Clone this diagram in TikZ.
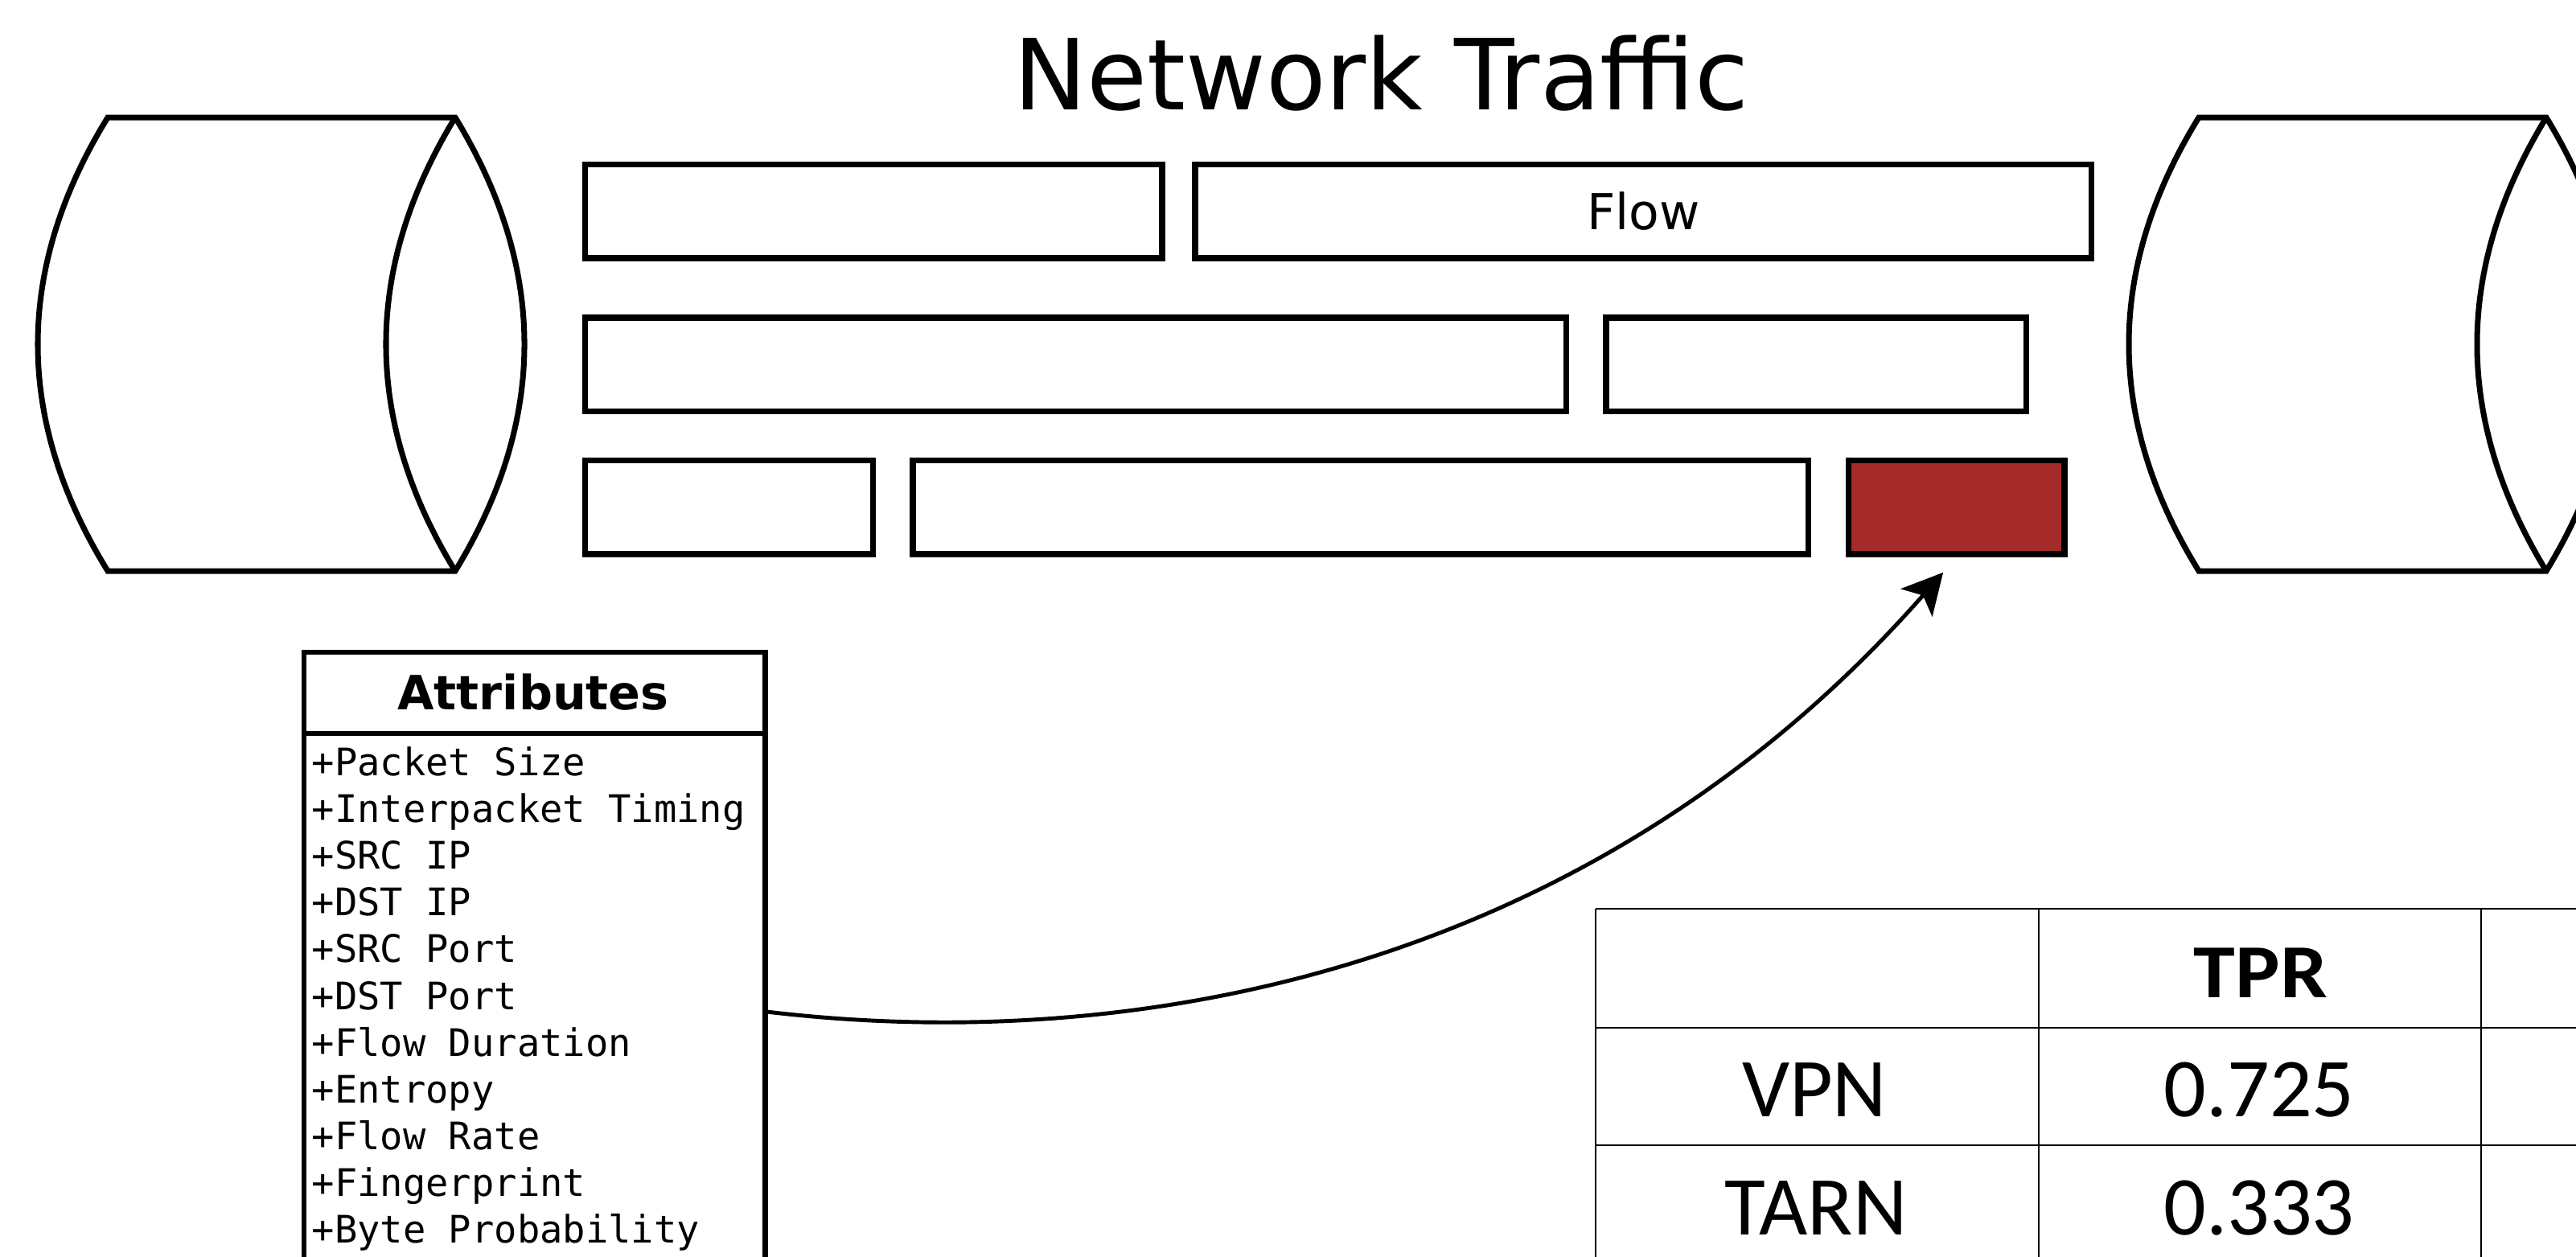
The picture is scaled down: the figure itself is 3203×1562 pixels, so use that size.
\documentclass[tikz,border=0pt]{standalone}
\usepackage{fontspec}
\usepackage{graphicx}
\setmainfont{DejaVu Sans}
\newfontfamily\monofont{DejaVu Sans Mono}
\newfontfamily\tablefont{Carlito}
\usetikzlibrary{arrows.meta,calc}
\definecolor{flowred}{RGB}{165,42,42}

\begin{document}
\begin{tikzpicture}[x=0.01cm,y=-0.01cm,
  pkt/.style={draw, line width=2.1pt, rectangle, inner sep=0pt, outer sep=0pt,
              minimum height=1.165cm, anchor=north west},
  cyl/.style={line width=2pt, line join=miter},
  tabline/.style={line width=0.6pt},
  tabtext/.style={anchor=base, inner sep=0pt, font=\tablefont\fontsize{29.6pt}{34pt}\selectfont},
  attrline/.style={anchor=base west, inner sep=0pt, font=\monofont\fontsize{13.4pt}{16pt}\selectfont},
  link/.style={line width=1.4pt, -{Stealth[length=0.5cm, width=0.52cm, inset=0.12cm]}}]

\useasboundingbox (0,0) rectangle (3203,1562);
\clip (0,0) rectangle (3203,1562);
\fill[white] (0,0) rectangle (3203,1562);

% heading
\node[anchor=base, inner sep=0pt, font=\fontsize{34.7pt}{40pt}\selectfont] (title) at (1717.5,136) {Network Traffic};

% endpoints drawn as cylinders lying on their side
\draw[cyl] (134,146) -- (566,146) .. controls (680.7,334) and (680.7,522) .. (566,710)
           -- (134,710) .. controls (18,522) and (18,334) .. cycle;
\draw[cyl] (566,146) .. controls (451.3,334) and (451.3,522) .. (566,710);

\draw[cyl] (2734,146) -- (3166,146) .. controls (3280.7,334) and (3280.7,522) .. (3166,710)
           -- (2734,710) .. controls (2618,522) and (2618,334) .. cycle;
\draw[cyl] (3166,146) .. controls (3051.3,334) and (3051.3,522) .. (3166,710);

% packets in the stream
\node[pkt, minimum width=7.17cm]  (A) at (727.5,204.5) {};
\node[pkt, minimum width=11.14cm, font=\fontsize{17.5pt}{20pt}\selectfont] (B) at (1486,204.5) {Flow};
\node[pkt, minimum width=12.195cm] (C) at (727.5,395) {};
\node[pkt, minimum width=5.22cm]  (D) at (1997,395) {};
\node[pkt, minimum width=3.575cm] (E) at (727.5,572.5) {};
\node[pkt, minimum width=11.13cm] (F) at (1135,572.5) {};
\node[pkt, minimum width=2.685cm, fill=flowred] (G) at (2298.5,572.5) {};

% attribute class box
\node[draw, line width=1.8pt, rectangle, inner sep=0pt, outer sep=0pt, anchor=north west,
      minimum width=5.73cm, minimum height=8.4cm] (attr) at (378,811) {};
\draw[line width=1.9pt] ($(attr.north west)+(0,101)$) -- ($(attr.north east)+(0,101)$);
\node[anchor=base, inner sep=0pt, font=\bfseries\fontsize{16.7pt}{20pt}\selectfont] (attrtitle) at (663,882) {Attributes};
\foreach \t [count=\i from 0] in {+Packet Size,+Interpacket Timing,+SRC IP,+DST IP,+SRC Port,+DST Port,+Flow Duration,+Entropy,+Flow Rate,+Fingerprint,+Byte Probability}
  \node[attrline] (item\i) at (387,964.5+58.1*\i) {\t};

% results table
\draw[tabline] (1984,1130) -- (3260,1130);
\draw[tabline] (1984,1278) -- (3260,1278);
\draw[tabline] (1984,1424) -- (3260,1424);
\draw[tabline] (1984,1130) -- (1984,1620);
\draw[tabline] (2535,1130) -- (2535,1620);
\draw[tabline] (3085,1130) -- (3085,1620);

\node[anchor=base, inner sep=0pt, font=\tablefont\bfseries\fontsize{27pt}{32pt}\selectfont] (tpr) at (2811,1240) {\scalebox{1.1}[1]{TPR}};
\node[tabtext] (vpn) at (2256,1388) {VPN};
\node[tabtext] (vpnval) at (2809,1388) {0.725};
\node[tabtext] (tarn) at (2258,1535) {TARN};
\node[tabtext] (tarnval) at (2809,1535) {0.333};

% link from the attribute list to the highlighted packet
\coordinate (src) at ($(attr.north east)+(2,447)$);
\coordinate (tip) at ($(G.south)+(-16.75,22.75)$);
\draw[link] (src) .. controls (1404,1312) and (1976,1212) .. (tip);

\end{tikzpicture}
\end{document}
